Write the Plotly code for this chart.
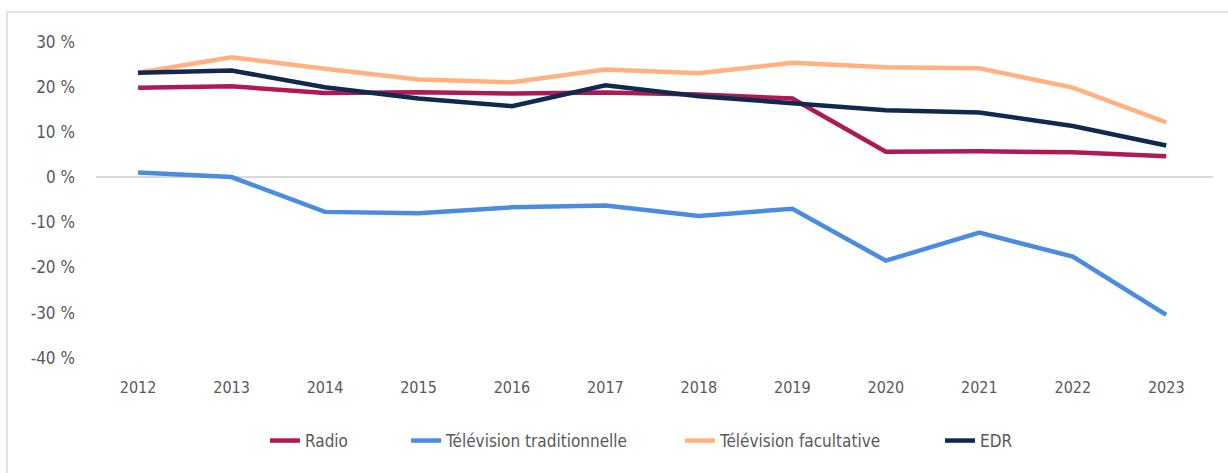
import plotly.graph_objects as go

years = ["2012", "2013", "2014", "2015", "2016", "2017", "2018", "2019", "2020", "2021", "2022", "2023"]
radio = [19.8, 20.1, 18.6, 18.8, 18.5, 18.7, 18.3, 17.4, 5.6, 5.7, 5.5, 4.6]
tv_trad = [1.0, 0.0, -7.7, -8.0, -6.7, -6.3, -8.6, -7.0, -18.5, -12.3, -17.6, -30.5]
tv_fac = [23.1, 26.5, 24.0, 21.6, 21.0, 23.8, 23.0, 25.3, 24.3, 24.1, 19.8, 12.1]
edr = [23.1, 23.6, 19.9, 17.4, 15.7, 20.3, 17.9, 16.4, 14.8, 14.3, 11.3, 7.0]

series_names = ["Radio", "Télévision traditionnelle", "Télévision facultative", "EDR"]
series_values = [radio, tv_trad, tv_fac, edr]
colors = ["#AD1A55", "#4A8CE0", "#FFB280", "#0F2A4E"]
legend_ids = ["legend", "legend2", "legend3", "legend4"]
legend_x = [0.1513, 0.2776, 0.5228, 0.7556]

y_tickvals = [30, 20, 10, 0, -10, -20, -30, -40]
y_ticktext = ["30 %", "20 %", "10 %", "0 %", "-10 %", "-20 %", "-30 %", "-40 %"]

FONT = "DejaVu Sans Condensed, Liberation Sans Narrow, sans-serif"
GREY = "#595959"

fig = go.Figure()
for name, vals, col, lid in zip(series_names, series_values, colors, legend_ids):
    fig.add_trace(go.Scatter(x=years, y=vals, mode="lines", name=name, legend=lid,
                             line=dict(color=col, width=4.5)))

legend_common = dict(orientation="h", y=-0.2076, yanchor="middle", xanchor="left",
                     font=dict(family=FONT, size=17, color=GREY),
                     bgcolor="rgba(0,0,0,0)", borderwidth=0)
layout_legends = {}
for lid, lx in zip(legend_ids, legend_x):
    layout_legends[lid] = dict(x=lx, **legend_common)

fig.update_layout(
    width=1228, height=473,
    margin=dict(l=96, r=15, t=28, b=103, autoexpand=False),
    paper_bgcolor="white", plot_bgcolor="white",
    font=dict(family=FONT, size=16, color=GREY),
    showlegend=True,
    xaxis=dict(type="category", range=[-0.45, 11.5], showgrid=False, zeroline=False,
               showline=False, ticks="", automargin=False, ticklabelstandoff=6,
               tickfont=dict(family=FONT, size=16, color=GREY)),
    yaxis=dict(range=[-42.7, 33.0], tickvals=y_tickvals, ticktext=y_ticktext,
               showgrid=False, zeroline=True, zerolinecolor="#D9D9D9", zerolinewidth=1.5,
               showline=False, ticks="", ticklabelstandoff=20, automargin=False,
               tickfont=dict(family=FONT, size=17, color=GREY)),
    shapes=[dict(type="rect", xref="paper", yref="paper", x0=-0.0797, x1=1.2,
                 y0=-0.5, y1=1.0468, line=dict(color="#D9D9D9", width=1.5),
                 fillcolor="rgba(0,0,0,0)", layer="below")],
    **layout_legends,
)

fig.write_html("out.html", config={"displayModeBar": False},
               post_script="document.body.style.margin='0';")
